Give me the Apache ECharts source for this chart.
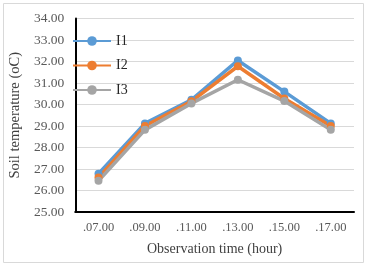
<!DOCTYPE html>
<html><head><meta charset="utf-8">
<script src="https://cdn.jsdelivr.net/npm/echarts@6/dist/echarts.min.js"></script>
<style>html,body{margin:0;padding:0;background:#fff}#c{width:368px;height:269px}</style>
</head><body><div id="c"></div>
<script>
const categories = ['.07.00', '.09.00', '.11.00', '.13.00', '.15.00', '.17.00'];
const I1 = [26.78, 29.12, 30.22, 32.05, 30.60, 29.12];
const I2 = [26.60, 29.00, 30.15, 31.78, 30.28, 29.00];
const I3 = [26.45, 28.82, 30.05, 31.15, 30.16, 28.82];
const seriesNames = ['I1', 'I2', 'I3'];
const colors = ['#5B9BD5', '#ED7D31', '#A5A5A5'];
const font = 'Liberation Serif';
const chart = echarts.init(document.getElementById('c'));
const data = [I1, I2, I3];
chart.setOption({
  animation: false,
  graphic: [{type: 'rect', shape: {x: 3.5, y: 3.5, width: 360, height: 259}, style: {fill: 'none', stroke: '#D9D9D9', lineWidth: 1}}],
  grid: {left: 67, right: 14, top: 18.5, bottom: 57},
  legend: {
    orient: 'vertical', left: 72, top: 34, padding: 0, itemWidth: 38, itemHeight: 12, itemGap: 10.5,
    textStyle: {fontFamily: font, fontSize: 14, color: '#262626'},
    data: seriesNames
  },
  xAxis: {
    type: 'category', data: categories, boundaryGap: true,
    axisLine: {lineStyle: {color: '#000', width: 2}},
    axisTick: {show: false},
    axisLabel: {fontFamily: font, fontSize: 12.5, color: '#595959', margin: 9},
    name: 'Observation time (hour)', nameLocation: 'middle', nameGap: 30,
    nameTextStyle: {fontFamily: font, fontSize: 14, color: '#404040'}
  },
  yAxis: {
    type: 'value', min: 25, max: 34, interval: 1,
    axisLine: {show: true, lineStyle: {color: '#000', width: 2}},
    axisTick: {show: false},
    axisLabel: {fontFamily: font, fontSize: 13.5, color: '#595959', margin: 11, formatter: v => v.toFixed(2)},
    splitLine: {lineStyle: {color: '#D9D9D9', width: 1}},
    name: 'Soil temperature (oC)', nameLocation: 'middle', nameGap: 46,
    nameTextStyle: {fontFamily: font, fontSize: 14.5, color: '#404040'}
  },
  series: seriesNames.map((n, i) => ({
    name: n, type: 'line', data: data[i], color: colors[i],
    symbol: 'circle', symbolSize: 8,
    lineStyle: {width: 3.5}, itemStyle: {color: colors[i]}
  }))
});
</script></body></html>
